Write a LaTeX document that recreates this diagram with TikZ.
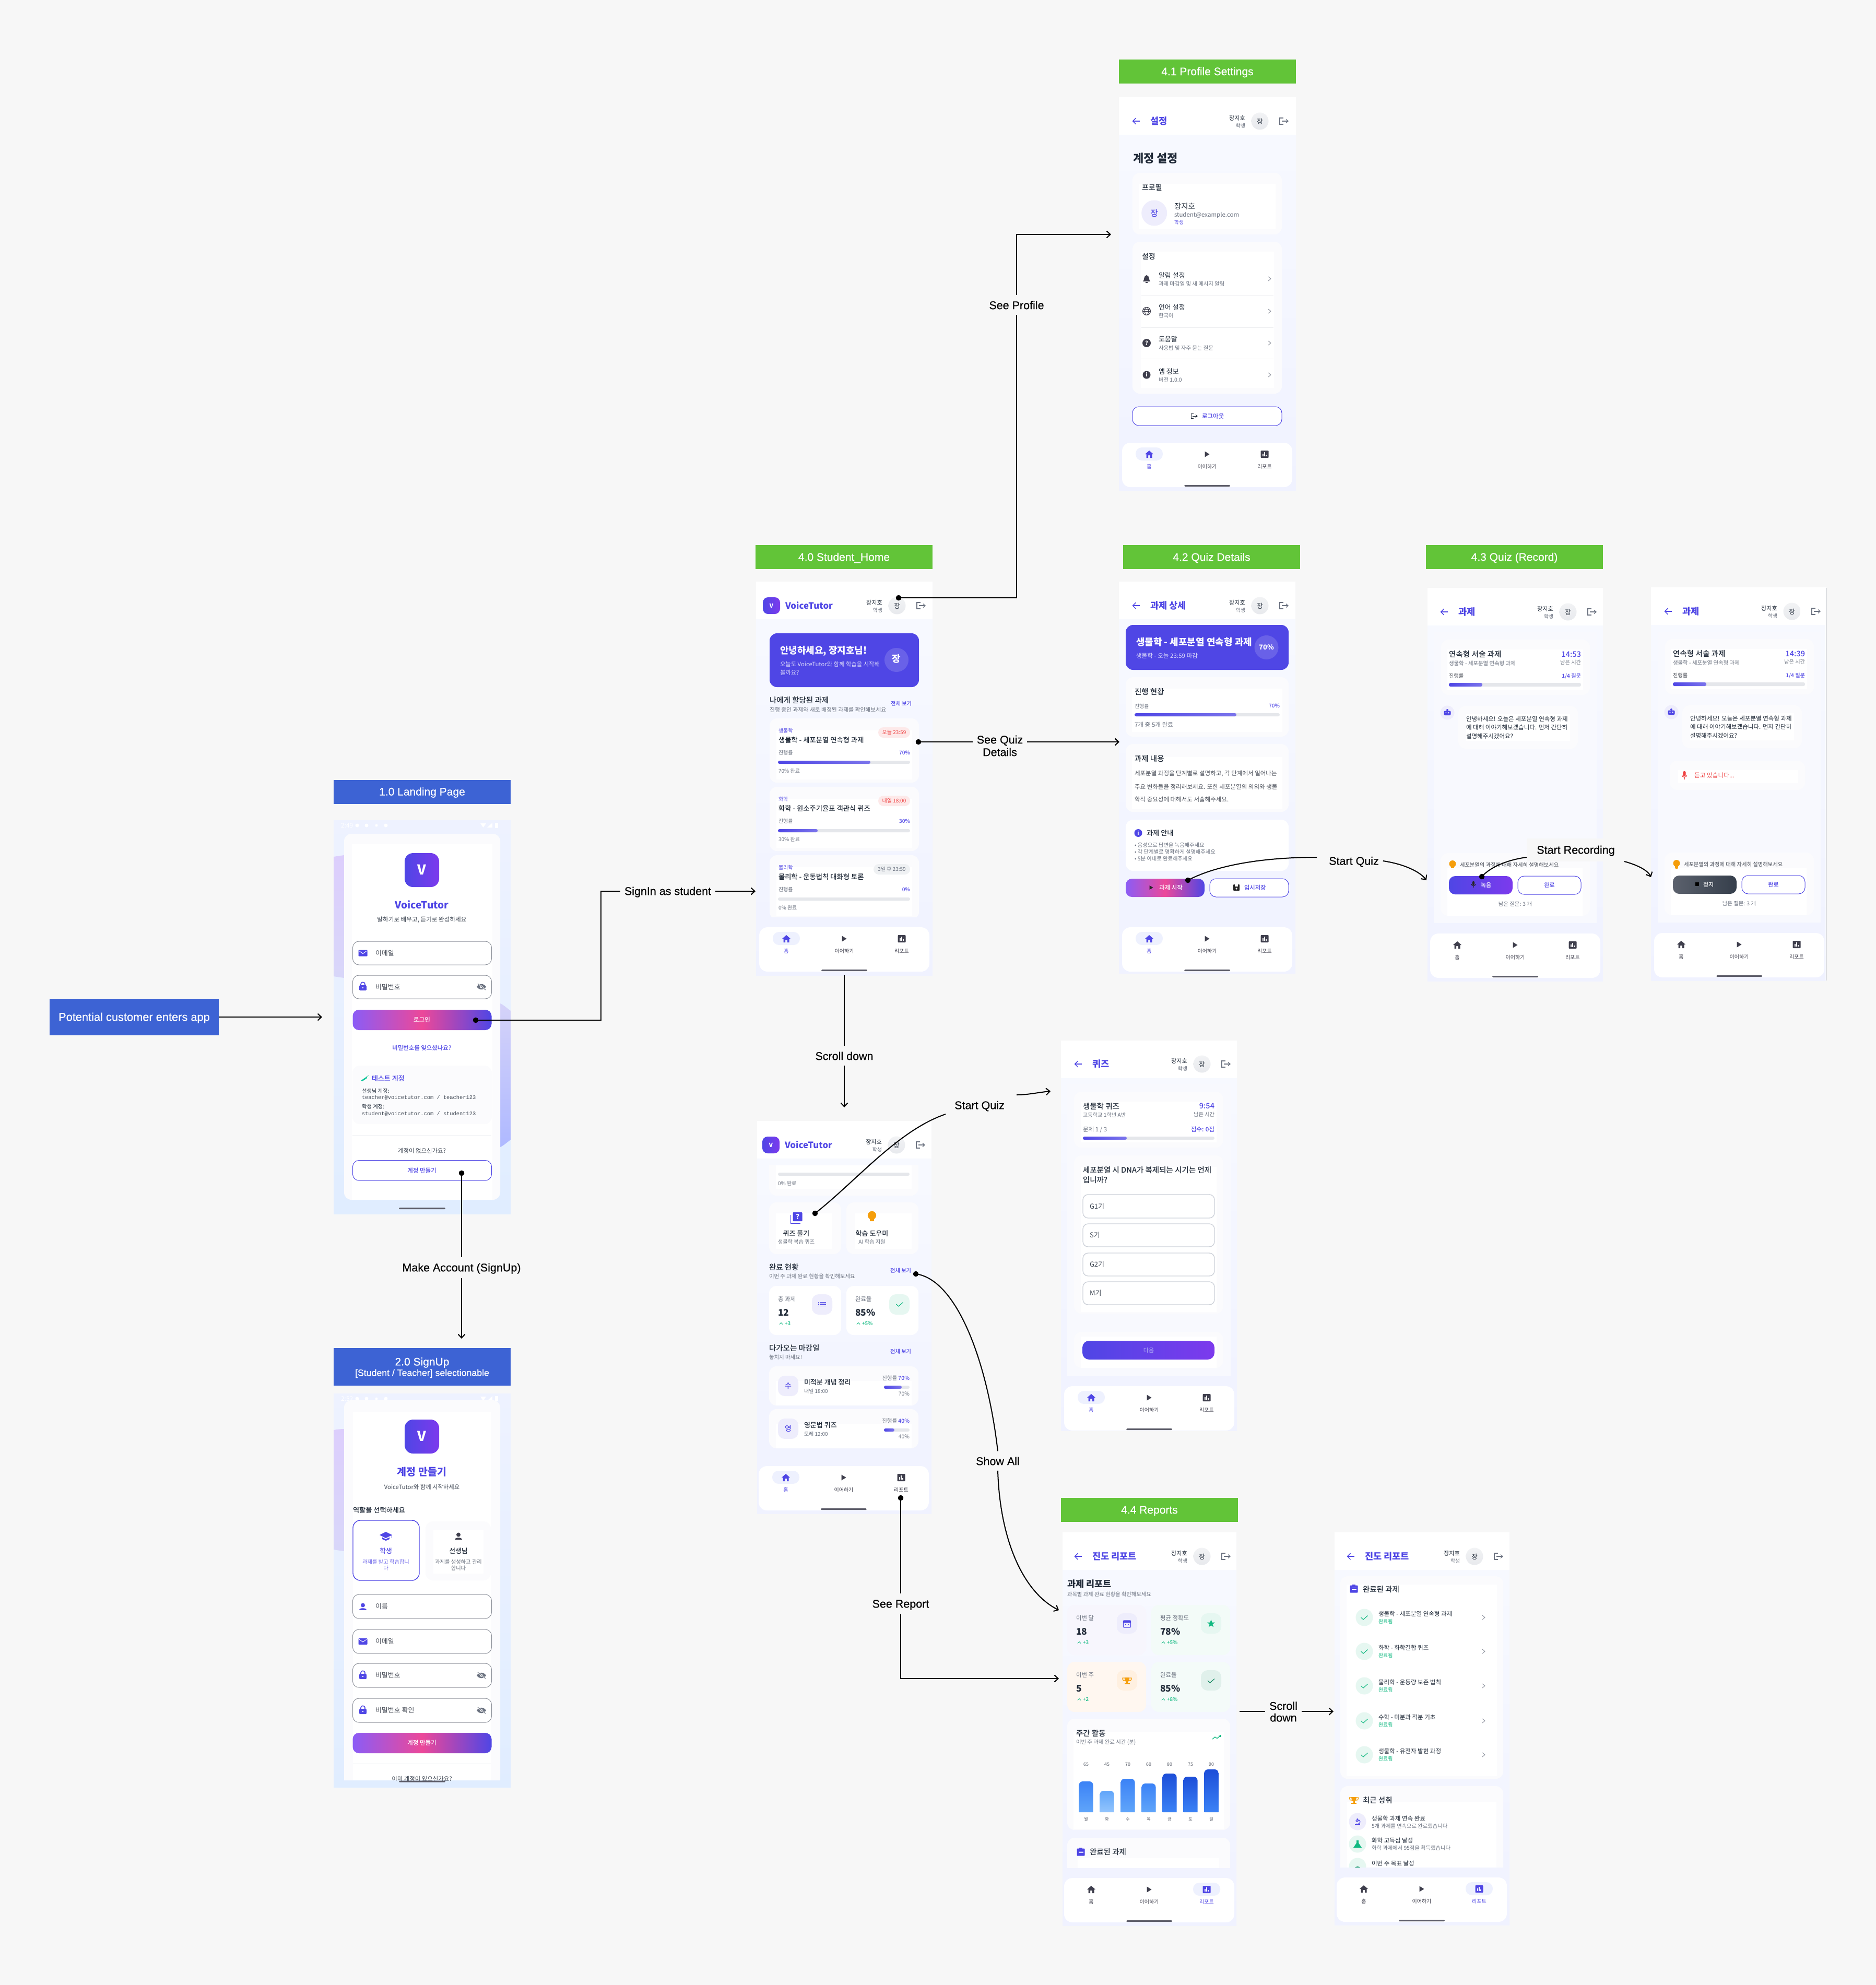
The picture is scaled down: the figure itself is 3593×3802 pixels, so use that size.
\documentclass[tikz,border=0pt]{standalone}
\usepackage{fontspec}
\usetikzlibrary{arrows.meta}
\setmainfont{Noto Sans CJK KR}[BoldFont={Noto Sans CJK KR Medium}]
\newfontfamily\krb{Noto Sans CJK KR}
\newfontfamily\lab{Liberation Sans}[FakeBold=0.3]
\newfontfamily\monof{Liberation Mono}
\definecolor{pagebg}{HTML}{F7F7F7}
\definecolor{bluehd}{HTML}{3D63D4}
\definecolor{greenhd}{HTML}{62C438}
\definecolor{ind}{HTML}{4F46E5}
\definecolor{vio}{HTML}{7C3AED}
\definecolor{lil}{HTML}{8B5CF6}
\definecolor{pnk}{HTML}{EC4899}
\definecolor{dark}{HTML}{1F2937}
\definecolor{gry}{HTML}{6B7280}
\definecolor{navd}{HTML}{3F3F4D}
\definecolor{track}{HTML}{E5E7EB}
\definecolor{grn}{HTML}{10B981}
\definecolor{redc}{HTML}{EF4444}
\definecolor{palei}{HTML}{EEEDFC}
\definecolor{paleg}{HTML}{E6F7F1}
\definecolor{cardbg}{HTML}{FBFBFD}
\definecolor{panel}{HTML}{F8F9FE}
\definecolor{navpill}{HTML}{EEF1FE}
\definecolor{scrT}{HTML}{F8FAFF}
\definecolor{scrB}{HTML}{F0F2FF}
\definecolor{scA}{HTML}{EEF2FF}
\definecolor{scB}{HTML}{F5F3FF}
\definecolor{scC}{HTML}{E0EDFF}
\definecolor{fieldb}{HTML}{8F939C}
\definecolor{optb}{HTML}{CDD1D9}
\definecolor{orng}{HTML}{F59E0B}
\pgfdeclarehorizontalshading{btngrad}{100bp}{color(0bp)=(lil); color(25bp)=(lil); color(50bp)=(pnk); color(75bp)=(ind); color(100bp)=(ind)}
\newcommand\Sx{\vrule width0pt height .88em depth .12em\relax}
\tikzset{
 tx/.style={inner sep=0pt,outer sep=0pt},
 tb/.style={font=\bfseries},
 tbb/.style={font=\krb\bfseries},
 conn/.style={draw=black,line width=2pt},
 arr/.style={conn,-{Straight Barb[length=7pt,width=13pt,line width=2pt]}},
 dotn/.style={circle,fill=black,inner sep=0pt,minimum size=10.6pt},
 lbln/.style={inner sep=0pt,outer sep=8pt,font=\lab,align=center,text=black},
 hd/.style={inner sep=0pt,outer sep=0pt,minimum width=339pt,text=white,align=center,font=\lab\fontsize{21}{21}\selectfont},
 cardo/.style={fill=cardbg,rounded corners=14pt},
 ghd/.style={shading=btngrad,rounded corners=12pt},
 vgrad/.style={left color=ind,right color=vio},
}
\newcounter{nid}
\newcommand\TxL[5][]{\stepcounter{nid}\node[tx,anchor=west,#1] (n\arabic{nid}) at (#2,#3) {\fontsize{#4}{#4}\selectfont\Sx #5};}
\newcommand\TxC[5][]{\stepcounter{nid}\node[tx,anchor=center,#1] (n\arabic{nid}) at (#2,#3) {\fontsize{#4}{#4}\selectfont\Sx #5};}
\newcommand\TxR[5][]{\stepcounter{nid}\node[tx,anchor=east,#1] (n\arabic{nid}) at (#2,#3) {\fontsize{#4}{#4}\selectfont\Sx #5};}
% icons
\newcommand\IcAt[3]{\begin{scope}[shift={(#1,#2)}]#3\end{scope}}
\newcommand\IcHome[3]{\IcAt{#1}{#2}{\fill[#3] (-8,0)--(0,-7)--(8,0)--(5.5,0)--(5.5,7)--(2,7)--(2,2)--(-2,2)--(-2,7)--(-5.5,7)--(-5.5,0)--cycle;}}
\newcommand\IcPlay[3]{\IcAt{#1}{#2}{\fill[#3] (-4.5,-5.5)--(4.5,0)--(-4.5,5.5)--cycle;}}
\newcommand\IcChart[3]{\IcAt{#1}{#2}{\fill[#3,rounded corners=1pt] (-7.5,-7)rectangle(7.5,7);\fill[white] (-4,-1)rectangle(-2,4);\fill[white] (-1,-4)rectangle(1,4);\fill[white] (2,1)rectangle(4,4);}}
\newcommand\IcOut[2]{\IcAt{#1}{#2}{\draw[gry,line width=1.2pt] (-1,-6)--(-8,-6)--(-8,6)--(-1,6);\draw[gry,line width=1.2pt] (-4,0)--(8,0);\draw[gry,line width=1.2pt] (4,-3.5)--(8,0)--(4,3.5);}}
\newcommand\IcBack[2]{\IcAt{#1}{#2}{\draw[ind,line width=1.4pt] (-6.5,0)--(6.5,0);\draw[ind,line width=1.4pt] (-0.5,-6)--(-6.5,0)--(-0.5,6);}}
\newcommand\IcMail[2]{\IcAt{#1}{#2}{\fill[ind,rounded corners=1pt] (-8.5,-6)rectangle(8.5,6);\draw[white,line width=1pt] (-7,-4)--(0,1)--(7,-4);}}
\newcommand\IcLock[2]{\IcAt{#1}{#2}{\fill[ind,rounded corners=1.5pt] (-7,-2)rectangle(7,8);\draw[ind,line width=1.6pt] (-4,-2)--(-4,-4) .. controls (-4,-9) and (4,-9) .. (4,-4)--(4,-2);\fill[white] (0,3) circle[radius=1.4];}}
\newcommand\IcEye[2]{\IcAt{#1}{#2}{\fill[gry] (-9,0) .. controls (-4,-7) and (4,-7) .. (9,0) .. controls (4,7) and (-4,7) .. (-9,0)--cycle;\fill[white] (0,0) circle[radius=2.6];\draw[white,line width=2.4pt] (-7,-6)--(8,6);\draw[gry,line width=1.1pt] (-7,-6)--(8,6);}}
\newcommand\IcPerson[3]{\IcAt{#1}{#2}{\fill[#3] (0,-3.5) circle[radius=4];\fill[#3] (-7,6) .. controls (-7,0.5) and (7,0.5) .. (7,6)--cycle;}}
\newcommand\IcCap[2]{\IcAt{#1}{#2}{\fill[ind] (-12,-3)--(0,-9)--(12,-3)--(0,3)--cycle;\fill[ind] (-7,1.5)--(0,5)--(7,1.5)--(7,5)--(0,8)--(-7,5)--cycle;\draw[ind,line width=1pt] (11,-3)--(11,3);}}
\newcommand\IcBell[2]{\IcAt{#1}{#2}{\fill[navd] (-7,5) .. controls (-4,3) and (-6,-6) .. (0,-7) .. controls (6,-6) and (4,3) .. (7,5)--cycle;\fill[navd] (-2,6)rectangle(2,7.5);}}
\newcommand\IcGlobe[2]{\IcAt{#1}{#2}{\draw[navd,line width=1.1pt] (0,0) circle[radius=7.5];\draw[navd,line width=1pt] (0,0) ellipse[x radius=3.5,y radius=7.5];\draw[navd,line width=1pt] (-7.5,0)--(7.5,0);\draw[navd,line width=.9pt] (-6.5,-3.5)--(6.5,-3.5);\draw[navd,line width=.9pt] (-6.5,3.5)--(6.5,3.5);}}
\newcommand\IcHelp[2]{\IcAt{#1}{#2}{\fill[navd] (0,0) circle[radius=8];\TxC[tbb,text=white]{0}{0}{11}{?}}}
\newcommand\IcInfo[3]{\IcAt{#1}{#2}{\fill[#3] (0,0) circle[radius=7.5];\TxC[tbb,text=white]{0}{0}{10}{i}}}
\newcommand\IcCheck[3]{\IcAt{#1}{#2}{\draw[#3,line width=1.1pt] (-6.5,0)--(-2,4)--(6.5,-3.5);}}
\newcommand\IcChev[2]{\IcAt{#1}{#2}{\draw[gry!80,line width=.9pt] (-2,-4)--(3,0)--(-2,4);}}
\newcommand\IcBulb[2]{\IcAt{#1}{#2}{\fill[orng] (0,-2.5) circle[radius=6.5];\fill[orng] (-3,2)rectangle(3,6);\fill[orng] (-2.2,7)rectangle(2.2,8.2);}}
\newcommand\IcTrophy[2]{\IcAt{#1}{#2}{\draw[orng,line width=1.3pt] (-5,-5)--(-8.5,-5)--(-8.5,-3) .. controls (-8.5,0) and (-6,0) .. (-4,0);\draw[orng,line width=1.3pt] (5,-5)--(8.5,-5)--(8.5,-3) .. controls (8.5,0) and (6,0) .. (4,0);\fill[orng] (-5,-6)--(5,-6)--(4,0) .. controls (3,3) and (-3,3) .. (-4,0)--cycle;\fill[orng] (-1.5,2)rectangle(1.5,5);\fill[orng] (-5,5)rectangle(5,7);}}
\newcommand\IcRobot[2]{\IcAt{#1}{#2}{\fill[ind,rounded corners=2pt] (-6.5,-3.5)rectangle(6.5,5);\fill[ind] (0,-5) circle[radius=2];\fill[white] (-2.6,0.2) circle[radius=1.2];\fill[white] (2.6,0.2) circle[radius=1.2];}}
\newcommand\IcMic[3]{\IcAt{#1}{#2}{\fill[#3,rounded corners=2.4pt] (-2.6,-8)rectangle(2.6,2);\draw[#3,line width=1pt] (-5,-1) .. controls (-5,5) and (5,5) .. (5,-1);\draw[#3,line width=1pt] (0,3.5)--(0,7.5);}}
\newcommand\IcSave[2]{\IcAt{#1}{#2}{\fill[black!85,rounded corners=1pt] (-6,-6)rectangle(6,6);\fill[white] (-3.5,-6)rectangle(3,-2);\fill[white] (0,2) circle[radius=1.8];}}
\newcommand\IcStar[2]{\IcAt{#1}{#2}{\fill[grn] (0,-8)--(2,-2.5)--(7.6,-2.5)--(3,1)--(4.7,6.5)--(0,3)--(-4.7,6.5)--(-3,1)--(-7.6,-2.5)--(-2,-2.5)--cycle;}}
\newcommand\IcCal[2]{\IcAt{#1}{#2}{\draw[ind,line width=1.2pt,rounded corners=1pt] (-7,-6)rectangle(7,7);\fill[ind] (-7,-6)rectangle(7,-2);\fill[ind] (-3.5,0.5)rectangle(-2,2);\fill[ind] (-.7,0.5)rectangle(.7,2);\fill[ind] (2,0.5)rectangle(3.5,2);}}
\newcommand\IcList[2]{\IcAt{#1}{#2}{\foreach \yy in {-3.5,0,3.5}{\fill[ind] (-7.5,{\yy-.8})rectangle(-6,{\yy+.8});\fill[ind] (-4.5,{\yy-.8})rectangle(7.5,{\yy+.8});}}}
\newcommand\IcClip[2]{\IcAt{#1}{#2}{\fill[ind,rounded corners=1pt] (-7.5,-6.5)rectangle(7.5,7.5);\fill[ind] (-3,-8)rectangle(3,-5);\fill[white] (-4.5,-2)rectangle(4.5,-.8);\fill[white] (-4.5,1)rectangle(4.5,2.2);}}
\newcommand\IcTrend[2]{\IcAt{#1}{#2}{\draw[grn,line width=1.3pt] (-8,4)--(-3,0)--(1,2.5)--(8,-3);\draw[grn,line width=1.3pt] (4,-3.5)--(8,-3.5)--(8,0);}}
\newcommand\IcQuiz[2]{\IcAt{#1}{#2}{\draw[ind,line width=1.6pt] (-11,-6)--(-11,10)--(7,10);\fill[ind,rounded corners=1pt] (-7,-11)rectangle(11,6);\TxC[tbb,text=white]{2}{-2.5}{13}{?}}}
\newcommand\IcTube[2]{\IcAt{#1}{#2}{\draw[grn!80!cyan,line width=2.6pt,line cap=round] (-6,4)--(3,-2);\draw[grn!60,line width=1.2pt] (2,-3)--(7,-6);}}
\newcommand\IcMicro[2]{\IcAt{#1}{#2}{\draw[ind,line width=1.3pt] (-1,-6)--(3,-1);\draw[ind,line width=1.2pt] (3,-3) .. controls (8,2) and (2,6) .. (-3,4.5);\draw[ind,line width=1.3pt] (-5,6)--(5,6);\draw[ind,line width=1.2pt] (-1,-1.5) circle[radius=2];}}
\newcommand\IcFlask[2]{\IcAt{#1}{#2}{\fill[grn] (-2,-7)--(2,-7)--(2,-2)--(8,7)--(-8,7)--(-2,-2)--cycle;}}
% screen parts
\newcommand\Scr[4]{\shade[top color=scrT,bottom color=scrB] (#1,#2) rectangle (#3,#4);\fill[white] (#1,#2) rectangle (#3,#2+72);}
\newcommand\HdrR{\TxR[text=dark]{242}{40}{11.2}{장지호}\TxR[text=gry]{242}{55}{9.8}{학생}\shade[top color=track!50,bottom color=track!90] (270,46) circle[radius=16.5];\TxC[text=dark]{270}{46.5}{12.5}{장}\IcOut{316}{46}}
\newcommand\HdrLogo[2]{\begin{scope}[shift={(#1,#2)}]\shade[vgrad,rounded corners=10pt] (13,30) rectangle (46,62);\TxC[tbb,text=white]{29.5}{46}{11}{V}\TxL[tbb,text=ind]{56}{46}{16.8}{VoiceTutor}\HdrR\end{scope}}
\newcommand\HdrBack[3]{\begin{scope}[shift={(#1,#2)}]\IcBack{33}{46}\TxL[tbb,text=ind]{60}{46}{17.6}{#3}\HdrR\end{scope}}
\newcommand\NavBar[3]{\begin{scope}[shift={(#1,#2)}]
 \fill[white,rounded corners=16pt] (6,662) rectangle (332,747);
 \ifnum#3=1 \fill[navpill,rounded corners=12pt] (32,671) rectangle (84,696);\IcHome{58}{684}{ind}\TxC[text=ind]{58}{708}{10}{홈}\else\IcHome{58}{684}{navd}\TxC[text=navd]{58}{708}{10}{홈}\fi
 \IcPlay{169}{684}{navd}\TxC[text=navd]{169}{708}{10}{이어하기}
 \ifnum#3=3 \fill[navpill,rounded corners=12pt] (253,671) rectangle (305,696);\IcChart{279}{684}{ind}\TxC[text=ind]{279}{708}{10}{리포트}\else\IcChart{279}{684}{navd}\TxC[text=navd]{279}{708}{10}{리포트}\fi
 \fill[navd!85,rounded corners=1.5pt] (125,743) rectangle (213,746);
 \end{scope}}
\newcommand\PBar[5]{\fill[track,rounded corners=3pt] (#1,#3) rectangle (#2,#4);\ifdim#5pt>#1pt\shade[left color=ind,right color=ind!75!white,rounded corners=3pt] (#1,#3) rectangle (#5,#4);\fi}
\newcommand\Card[8]{\fill[cardo] (#1,#2) rectangle (#3,#4);\fill[white] (#5,#6) rectangle (#7,#8);}
\newcommand\ACard[7]{\begin{scope}[shift={(0,#1)}]
 \Card{1474}{1376}{1760}{1499}{1487}{1399}{1747}{1493}
 \TxL[text=ind]{1491}{1400}{10}{#2}\TxL[tb,text=dark]{1491}{1417}{13.3}{#3}
 \fill[#5,rounded corners=10pt] (#6,1393) rectangle (1743,1413);\TxC[text=#7]{{(#6+1743)/2}}{1403}{10}{#4}
 \end{scope}}
\newcommand\ACardB[4]{\begin{scope}[shift={(0,#1)}]
 \TxL[text=gry]{1491}{1442}{10}{진행률}\TxR[tb,text=ind]{1743}{1442}{10}{#2\%}
 \PBar{1490}{1743}{1457}{1463}{#3}
 \TxL[text=gry]{1491}{1477}{10}{#2\% 완료}
 \end{scope}}
\newcommand\StatCard[9]{\begin{scope}[shift={(#1,#2)}]
 \fill[#5,rounded corners=14pt] (0,0) rectangle (#3,#4);
 \fill[#6,rounded corners=13pt] ({#3-56},16) rectangle ({#3-17},55);
 \TxL[text=gry]{17}{25}{11.4}{#7}\TxL[tbb,text=dark]{17}{51}{17.5}{#8}
 \draw[grn,line width=.9pt] (20,73.5)--(23,70.5)--(26,73.5);\TxL[tb,text=grn]{30}{72}{9.8}{#9}
 \end{scope}}
\newcommand\Field[4]{\draw[fieldb,line width=1pt,fill=white,rounded corners=12pt] (675.5,#1) rectangle (941.5,#2);\TxL[text=gry!70!black]{719}{{(#1+#2)/2}}{13}{#3}#4}
\newcommand\Status[3]{\TxL[text=white]{653}{#1}{12}{#2}\fill[white] (684,#1) circle[radius=3.5];\fill[white] (702,#1) circle[radius=3.5];\fill[white] (721,#1) circle[radius=2.5];\fill[white] (739,#1) circle[radius=3.5];\fill[white] (920,#1-4) -- (931,#1-4)--(925.5,#1+4)--cycle;\fill[white] (943,#1-5)--(943,#1+4)--(933,#1+4)--cycle;\fill[white] (948,#1-5) rectangle (954,#1+5);#3}
\newcommand\RBar[7]{\shade[top color=#5,bottom color=#6] ({#1-13.5},3471) [rounded corners=7pt] -- ({#1-13.5},#2) -- ({#1+13.5},#2) [sharp corners] -- ({#1+13.5},3471) -- cycle;\TxC[text=gry!80!black]{#1}{3379}{8.8}{#3}\TxC[text=gry!80!black]{#1}{3484}{8}{#4}}
\newcommand\DLine[7]{\begin{scope}[shift={(0,#1)}]\Card{1473}{2617}{1759}{2692}{1486}{2645}{1746}{2692}
 \fill[palei,rounded corners=13pt] (1490,2635) rectangle (1529,2674);\TxC[tb,text=ind]{1509.5}{2654.5}{14}{#2}
 \TxL[tb,text=dark]{1540}{2648}{13}{#3}\TxL[text=gry]{1540}{2665}{10}{#4}
 \TxR[text=gry]{1742}{2640}{10.4}{진행률 {\bfseries\color{ind}#5\%}}
 \PBar{1693}{1742}{2654}{2660}{#6}\TxR[text=gry]{1742}{2670}{10.4}{#5\%}\end{scope}}
\newcommand\QuizScr[4]{\begin{scope}[shift={(#1,#2)}]
 \fill[panel] (13,85) rectangle (325,642);
 \Card{27}{99}{312}{205}{39}{118}{299}{195}
 \TxL[tb,text=dark]{42}{127}{14.6}{연속형 서술 과제}\TxL[text=gry]{42}{145}{10.4}{생물학 - 세포분열 연속형 과제}
 \TxR[tb,text=ind]{295}{127}{14.5}{#3}\TxR[text=gry]{295}{143}{10.2}{남은 시간}
 \TxL[text=gry!60!black]{42}{169}{10.2}{진행률}\TxR[tb,text=ind]{295}{169}{10.2}{1/4 질문}
 \PBar{42}{295}{182}{189}{106}
 \fill[palei] (39,239) circle[radius=13.5];\IcRobot{39}{239}
 \Card{60}{226}{289}{308}{75}{241}{274}{293}
 \TxL[text=dark]{75}{251}{11.5}{안녕하세요! 오늘은 세포분열 연속형 과제}
 \TxL[text=dark]{75}{267}{11.5}{에 대해 이야기해보겠습니다. 먼저 간단히}
 \TxL[text=dark]{75}{284}{11.5}{설명해주시겠어요?}
 \Card{26}{508}{312}{628}{39}{537}{298}{628}
 \IcBulb{49}{531}\TxL[text=gry!70!black]{63}{531}{10.3}{세포분열의 과정에 대해 자세히 설명해보세요}
 #4
 \fill[white,draw=ind,line width=1pt,rounded corners=12pt] (174,552) rectangle (295,587);\TxC[tb,text=ind]{234.5}{569.5}{11}{완료}
 \TxC[text=gry]{169}{606}{10.4}{남은 질문: 3 개}
 \end{scope}}
\begin{document}
\begin{tikzpicture}[x=1pt,y=-1pt]
\useasboundingbox (0,0) rectangle (3593,3802);
\fill[pagebg] (0,0) rectangle (3593,3802);
% ---------- headers
\node[hd,fill=bluehd,minimum height=46pt] (hl) at (808.5,1516.5) {\Sx 1.0 Landing Page};
\node[hd,fill=bluehd,minimum height=72pt] (hs) at (808.5,2618) {\Sx 2.0 SignUp\\[-1pt]{\fontsize{17.7}{18}\selectfont\Sx {[}Student / Teacher{]} selectionable}};
\node[hd,fill=greenhd,minimum height=46pt] (h40) at (1616.5,1067) {\Sx 4.0 Student\_Home};
\node[hd,fill=greenhd,minimum height=46pt] (h41) at (2312.5,137) {\Sx 4.1 Profile Settings};
\node[hd,fill=greenhd,minimum height=46pt] (h42) at (2320.5,1067) {\Sx 4.2 Quiz Details};
\node[hd,fill=greenhd,minimum height=46pt] (h43) at (2900.5,1067) {\Sx 4.3 Quiz (Record)};
\node[hd,fill=greenhd,minimum height=46pt] (h44) at (2201.5,2892) {\Sx 4.4 Reports};
\node[tx,fill=bluehd,minimum width=324pt,minimum height=70pt,text=white,font=\lab\fontsize{21.8}{22}\selectfont] (pot) at (257,1948) {\Sx Potential customer enters app};
% ---------- Landing
\shade[top color=scA,middle color=scB,bottom color=scC] (639,1571) rectangle (978,2325);
\shade[top color=lil!30,bottom color=ind!22] (639,1641) .. controls (645,1640) and (652,1639) .. (659,1638) -- (659,1873) .. controls (652,1872) and (645,1871) .. (639,1870) -- cycle;
\shade[top color=ind!24,bottom color=blue!22!scC] (958,1922) .. controls (965,1925) and (972,1932) .. (978,1936) -- (978,2183) .. controls (972,2187) and (965,2194) .. (958,2197) -- cycle;
\Status{1581}{2:49}{}
\fill[cardo] (659,1597) rectangle (958,2298);
\fill[white] (674,1617) rectangle (943,2298);
\shade[vgrad,rounded corners=16pt] (775,1634) rectangle (841,1699);
\TxC[tbb,text=white]{808}{1666}{26}{V}
\TxC[tbb,text=ind]{808}{1733}{19}{VoiceTutor}
\TxC[text=dark!85]{808}{1761}{11.6}{말하기로 배우고, 듣기로 완성하세요}
\Field{1803}{1848}{이메일}{\IcMail{695}{1825.5}}
\Field{1868}{1913}{비밀번호}{\IcLock{695}{1889}\IcEye{922}{1890}}
\shade[ghd] (675.5,1934) rectangle (941.5,1973);
\TxC[tb,text=white]{808}{1953.5}{11.5}{로그인}
\TxC[tb,text=ind]{808}{2007}{11.4}{비밀번호를 잊으셨나요?}
\fill[cardo] (675,2041) rectangle (942,2153);
\IcTube{699}{2066}
\TxL[tb,text=ind]{712}{2066}{13}{테스트 계정}
\TxL[text=dark]{693}{2089.5}{10.3}{선생님 계정:}
\TxL[font=\monof,text=dark!85]{693}{2102}{10.4}{teacher@voicetutor.com / teacher123}
\TxL[text=dark]{693}{2120}{10.3}{학생 계정:}
\TxL[font=\monof,text=dark!85]{693}{2133}{10.4}{student@voicetutor.com / student123}
\draw[track,line width=1pt] (675,2175) -- (941,2175);
\TxC[text=dark!85]{808}{2204}{11.4}{계정이 없으신가요?}
\fill[white,draw=ind,line width=1pt,rounded corners=12pt] (675.5,2222.5) rectangle (941.5,2261);
\TxC[tb,text=ind]{808}{2242}{11.5}{계정 만들기}
\fill[navd!85,rounded corners=1.5pt] (764,2313) rectangle (853,2316);
% ---------- SignUp
\shade[top color=scA,middle color=scB,bottom color=scC] (639,2669) rectangle (978,3423);
\shade[top color=lil!30,bottom color=ind!22] (639,2739) .. controls (645,2738) and (652,2737) .. (659,2737) -- (659,2971) .. controls (652,2970) and (645,2969) .. (639,2968) -- cycle;
\Status{2679}{2:52}{}
\fill[cardbg] (659,2695) [rounded corners=14pt] -- (659,2682) -- (958,2682) [sharp corners] -- (958,3410) -- (659,3410) -- cycle;
\fill[white] (676,2705) rectangle (941,3410);
\shade[vgrad,rounded corners=16pt] (775,2719) rectangle (841,2784);
\TxC[tbb,text=white]{808}{2751}{26}{V}
\TxC[tbb,text=ind]{808}{2819}{19.5}{계정 만들기}
\TxC[text=dark!85]{808}{2848}{11.3}{VoiceTutor와 함께 시작하세요}
\TxL[tb,text=dark]{676}{2892}{13.2}{역할을 선택하세요}
\fill[white,draw=ind,line width=1.4pt,rounded corners=14pt] (676,2912) rectangle (803,3027);
\IcCap{739}{2943}
\TxC[tb,text=ind]{739}{2971}{12.7}{학생}
\TxC[text=ind!80]{739}{2992}{10.3}{과제를 받고 학습합니}
\TxC[text=ind!80]{739}{3004}{10.3}{다}
\fill[cardbg,rounded corners=14pt] (815,2914) rectangle (940,3027);
\fill[white] (830,2931) rectangle (926,3014);
\IcPerson{878}{2943}{navd}
\TxC[tb,text=dark]{878}{2971}{12.8}{선생님}
\TxC[text=gry]{878}{2992}{10.3}{과제를 생성하고 관리}
\TxC[text=gry]{878}{3004}{10.3}{합니다}
\Field{3054}{3100}{이름}{\IcPerson{695}{3078}{ind}}
\Field{3121}{3167}{이메일}{\IcMail{695}{3144}}
\Field{3186}{3232}{비밀번호}{\IcLock{695}{3208}\IcEye{922}{3209}}
\Field{3253}{3299}{비밀번호 확인}{\IcLock{695}{3275}\IcEye{922}{3276}}
\shade[ghd] (675.5,3319) rectangle (941.5,3358);
\TxC[tb,text=white]{808}{3338.5}{11.5}{계정 만들기}
\draw[track,line width=1pt] (676,3378) -- (941,3378);
\begin{scope}\clip (659,3390) rectangle (958,3410);
\TxC[text=dark!85]{808}{3407}{11.4}{이미 계정이 있으신가요?}
\end{scope}
\fill[navd!85,rounded corners=1.5pt] (764,3410.5) rectangle (853,3413.5);
% ---------- 4.0 home
\Scr{1448}{1114}{1786}{1868}
\HdrLogo{1448}{1114}
\fill[ind,rounded corners=14pt] (1474,1213) rectangle (1760,1316);
\TxL[tbb,text=white]{1494}{1247}{18}{안녕하세요, 장지호님!}
\TxL[text=palei!85!ind]{1494}{1272}{11.3}{오늘도 VoiceTutor와 함께 학습을 시작해}
\TxL[text=palei!85!ind]{1494}{1288}{11.3}{볼까요?}
\fill[white,opacity=.15] (1717,1264) circle[radius=23];
\TxC[tbb,text=white]{1717}{1262}{18}{장}
\TxL[tb,text=dark]{1474}{1341}{14.5}{나에게 할당된 과제}
\TxL[text=gry]{1474}{1359}{10.8}{진행 중인 과제와 새로 배정된 과제를 확인해보세요}
\TxR[tb,text=ind]{1746}{1348}{10.2}{전체 보기}
\ACard{0}{생물학}{생물학 - 세포분열 연속형 과제}{오늘 23:59}{redc!12}{1682}{redc}
\ACardB{0}{70}{1667}{}
\ACard{131}{화학}{화학 - 원소주기율표 객관식 퀴즈}{내일 18:00}{redc!12}{1682}{redc}
\ACardB{131}{30}{1566}{}
\begin{scope}\clip (1448,1600) rectangle (1786,1756);
\ACard{262}{물리학}{물리학 - 운동법칙 대화형 토론}{3일 후 23:59}{track!60}{1673}{gry}
\ACardB{262}{0}{1490}{}
\end{scope}
\NavBar{1448}{1114}{1}
% ---------- 4.1 profile
\Scr{2143}{186}{2482}{939}
\HdrBack{2143}{186}{설정}
\TxL[tbb,text=dark]{2170}{303}{22}{계정 설정}
\Card{2169}{331}{2455}{449}{2182}{352}{2443}{439}
\TxL[tb,text=dark]{2187}{359}{14}{프로필}
\fill[palei] (2210.7,408) circle[radius=24.5];
\TxC[tb,text=ind]{2210.7}{408}{16}{장}
\TxL[text=dark]{2249}{395}{14.4}{장지호}
\TxL[text=gry]{2249}{412}{11.5}{student@example.com}
\TxL[text=ind]{2249}{426}{9.6}{학생}
\Card{2169}{463}{2455}{754}{2185}{482}{2440}{743}
\TxL[tb,text=dark]{2187}{491}{14}{설정}
\IcBell{2196}{534}\IcGlobe{2196}{596}\IcHelp{2196}{657}\IcInfo{2196}{718}{navd}
\TxL[text=dark]{2219}{528}{13}{알림 설정}\TxL[text=gry]{2219}{544}{10.4}{과제 마감일 및 새 메시지 알림}
\TxL[text=dark]{2219}{589}{13}{언어 설정}\TxL[text=gry]{2219}{605}{10.4}{한국어}
\TxL[text=dark]{2219}{650}{13}{도움말}\TxL[text=gry]{2219}{667}{10.4}{사용법 및 자주 묻는 질문}
\TxL[text=dark]{2219}{712}{13}{앱 정보}\TxL[text=gry]{2219}{728}{10.4}{버전 1.0.0}
\IcChev{2431}{534}\IcChev{2431}{596}\IcChev{2431}{657}\IcChev{2431}{718}
\draw[track!70,line width=1pt] (2186,565) -- (2439,565);
\draw[track!70,line width=1pt] (2186,627) -- (2439,627);
\draw[track!70,line width=1pt] (2186,687) -- (2439,687);
\fill[white,draw=ind,line width=1pt,rounded corners=12pt] (2169,779) rectangle (2455,815);
\IcAt{2287}{797}{\begin{scope}[scale=.75]\draw[dark,line width=1pt] (-1,-6)--(-8,-6)--(-8,6)--(-1,6);\draw[dark,line width=1pt] (-4,0)--(8,0);\draw[dark,line width=1pt] (4,-3.5)--(8,0)--(4,3.5);\end{scope}}
\TxL[tb,text=ind]{2302}{797}{11.5}{로그아웃}
\NavBar{2143}{186}{1}
% ---------- 4.2 quiz details
\Scr{2143}{1114}{2481}{1864}
\HdrBack{2143}{1114}{과제 상세}
\fill[ind,rounded corners=14pt] (2156,1197) rectangle (2468,1283);
\TxL[tbb,text=white]{2176}{1230}{18}{생물학 - 세포분열 연속형 과제}
\TxL[text=palei!85!ind]{2176}{1256}{11.6}{생물학 - 오늘 23:59 마감}
\fill[white,opacity=.15] (2425.5,1240) circle[radius=23];
\TxC[tbb,text=white]{2425.5}{1240}{13}{70\%}
\Card{2156}{1297}{2468}{1411}{2168}{1319}{2456}{1402}
\TxL[tb,text=dark]{2173}{1325}{14.5}{진행 현황}
\TxL[text=gry]{2173}{1352.5}{10}{진행률}\TxR[tb,text=ind]{2451}{1352}{10}{70\%}
\PBar{2173}{2451}{1366}{1372}{2368}
\TxL[text=gry]{2173}{1388}{11.6}{7개 중 5개 완료}
\Card{2156}{1425}{2468}{1555}{2168}{1450}{2456}{1550}
\TxL[tb,text=dark]{2173}{1453}{14.5}{과제 내용}
\TxL[text=gry!70!black]{2173}{1482}{11.5}{세포분열 과정을 단계별로 설명하고, 각 단계에서 일어나는}
\TxL[text=gry!70!black]{2173}{1507}{11.5}{주요 변화들을 정리해보세요. 또한 세포분열의 의의와 생물}
\TxL[text=gry!70!black]{2173}{1531}{11.5}{학적 중요성에 대해서도 서술해주세요.}
\fill[white,rounded corners=14pt] (2156,1570) rectangle (2468,1668);
\IcInfo{2180}{1595.5}{ind}
\TxL[tb,text=dark]{2196}{1595.5}{13.2}{과제 안내}
\TxL[text=gry]{2173}{1619}{10.3}{• 음성으로 답변을 녹음해주세요}
\TxL[text=gry]{2173}{1632}{10.3}{• 각 단계별로 명확하게 설명해주세요}
\TxL[text=gry]{2173}{1645}{10.3}{• 5분 이내로 완료해주세요}
\shade[ghd] (2156,1683) rectangle (2307,1718);
\IcAt{2205}{1700}{\fill[black!85] (-3.5,-4)--(3.5,0)--(-3.5,4)--cycle;}
\TxL[tb,text=white]{2220}{1700}{11.5}{과제 시작}
\fill[white,draw=ind,line width=1pt,rounded corners=12pt] (2317,1683) rectangle (2468,1718);
\IcSave{2368}{1700}
\TxL[tb,text=ind]{2383}{1700}{11.3}{임시저장}
\NavBar{2143}{1114}{1}
% ---------- 4.3 record
\Scr{2734}{1126}{3070}{1879}
\HdrBack{2733}{1126}{과제}
\QuizScr{2733}{1126}{14:53}{\shade[left color=ind,right color=vio,rounded corners=12pt] (42,552) rectangle (164,587);\IcAt{89}{568}{\begin{scope}[scale=.8]\IcMic{0}{0}{black!85}\end{scope}}\TxL[tb,text=white]{103}{569.5}{11}{녹음}}
\NavBar{2733}{1126}{0}
\Scr{3162}{1125}{3497}{1878}
\HdrBack{3162}{1125}{과제}
\QuizScr{3162}{1125}{14:39}{\shade[left color=gry!85!black,right color=dark!90,rounded corners=12pt] (42,552) rectangle (164,587);\fill[black] (85,565) rectangle (92,572);\TxL[tb,text=white]{100}{569.5}{11}{정지}
 \Card{36}{332}{295}{388}{52}{350}{281}{375}\IcMic{64}{360}{redc}\TxL[text=redc]{83}{360}{11.7}{듣고 있습니다...}}
\NavBar{3162}{1125}{0}
\draw[gry!70,line width=.8pt] (3497,1126) -- (3497,1878);
% ---------- Scrolled home
\Scr{1450}{2147}{1784}{2899}
\HdrLogo{1447}{2147}
\begin{scope}\clip (1450,2232) rectangle (1784,2300);
\Card{1473}{2190}{1759}{2290}{1486}{2200}{1746}{2277}
\TxL[text=gry]{1490}{2228}{10}{진행률}\TxR[tb,text=ind]{1742}{2228}{10}{0\%}
\PBar{1490}{1742}{2246}{2252}{1490}
\TxL[text=gry]{1490}{2267}{10}{0\% 완료}
\end{scope}
\Card{1473}{2303}{1611}{2402}{1486}{2324}{1594}{2392}
\Card{1621}{2303}{1759}{2402}{1638}{2324}{1746}{2392}
\IcQuiz{1525.5}{2333}
\TxC[tb,text=dark]{1525}{2363}{13}{퀴즈 풀기}
\TxC[text=gry]{1525}{2379}{10.2}{생물학 복습 퀴즈}
\IcAt{1670}{2331}{\begin{scope}[scale=1.25]\IcBulb{0}{0}\end{scope}}
\TxC[tb,text=dark]{1670}{2363}{13}{학습 도우미}
\TxC[text=gry]{1670}{2379}{10.2}{AI 학습 지원}
\TxL[tb,text=dark]{1473}{2427}{14.5}{완료 현황}
\TxL[text=gry]{1473}{2445}{10.4}{이번 주 과제 완료 현황을 확인해보세요}
\TxR[tb,text=ind]{1745}{2434}{10.2}{전체 보기}
\StatCard{1473}{2463}{138}{94}{white}{palei}{총 과제}{12}{+3}
\IcList{1574.5}{2498}
\StatCard{1621}{2463}{138}{94}{white}{paleg}{완료율}{85\%}{+5\%}
\IcCheck{1723}{2498}{grn}
\TxL[tb,text=dark]{1473}{2582}{14.5}{다가오는 마감일}
\TxL[text=gry]{1473}{2600}{10.4}{놓치지 마세요!}
\TxR[tb,text=ind]{1745}{2589}{10.2}{전체 보기}
\DLine{0}{수}{미적분 개념 정리}{내일 18:00}{70}{1727}{}
\DLine{82}{영}{영문법 퀴즈}{모레 12:00}{40}{1713}{}
\NavBar{1447}{2146}{1}
% ---------- Quiz
\Scr{2032}{1993}{2369}{2740}
\HdrBack{2032}{1992}{퀴즈}
\fill[panel] (2044,2077) rectangle (2357,2635);
\Card{2057}{2091}{2343}{2198}{2070}{2110}{2330}{2188}
\TxL[tb,text=dark]{2074}{2119}{14.5}{생물학 퀴즈}
\TxL[text=gry]{2074}{2136}{10.2}{고등학교 1학년 A반}
\TxR[tb,text=ind]{2326}{2118}{14.5}{9:54}
\TxR[text=gry]{2326}{2135}{10.2}{남은 시간}
\TxL[text=gry]{2074}{2163}{11.5}{문제 1 / 3}
\TxR[tb,text=ind]{2326}{2163}{11.5}{점수: 0점}
\PBar{2074}{2326}{2177}{2183}{2158}
\Card{2057}{2213}{2343}{2516}{2070}{2235}{2330}{2513}
\TxL[tb,text=dark]{2074}{2241}{14.5}{세포분열 시 DNA가 복제되는 시기는 언제}
\TxL[tb,text=dark]{2074}{2260}{14.5}{입니까?}
\foreach \ya/\yb/\ot in {2288/2333/G1기,2344/2388/S기,2400/2444/G2기,2455/2499/M기}{
 \draw[optb,line width=1.4pt,fill=white,rounded corners=10pt] (2074,\ya) rectangle (2326,\yb);
 \TxL[text=dark!85]{2087}{{(\ya+\yb)/2}}{13}{\ot}
}
\Card{2057}{2551}{2343}{2620}{2070}{2560}{2330}{2620}
\shade[vgrad,rounded corners=13pt] (2073,2568) rectangle (2326,2604);
\TxC[text=palei!60!ind]{2200}{2586}{11}{다음}
\NavBar{2032}{1993}{1}
% ---------- Reports 1
\Scr{2035}{2935}{2368}{3688}
\HdrBack{2032}{2935}{진도 리포트}
\TxL[tbb,text=dark]{2044}{3034}{17.5}{과제 리포트}
\TxL[text=gry]{2044}{3054}{10.3}{과목별 과제 완료 현황을 확인해보세요}
\StatCard{2044}{3074}{151}{96}{palei!50}{palei}{이번 달}{18}{+3}
\IcCal{2158.5}{3110}
\StatCard{2205}{3074}{151}{96}{paleg!50}{paleg}{평균 정확도}{78\%}{+5\%}
\IcStar{2319.5}{3110}
\StatCard{2044}{3183}{151}{96}{orange!6}{orange!12}{이번 주}{5}{+2}
\IcTrophy{2158.5}{3219}
\StatCard{2205}{3183}{151}{96}{paleg!45}{paleg!95!gry}{완료율}{85\%}{+8\%}
\IcCheck{2319.5}{3219}{grn!70!black}
\Card{2044}{3292}{2356}{3505}{2056}{3318}{2344}{3503}
\TxL[tb,text=dark]{2061}{3320}{14.5}{주간 활동}
\TxL[text=gry]{2061}{3337}{10.4}{이번 주 과제 완료 시간 (분)}
\IcTrend{2330}{3327}
\definecolor{ba}{HTML}{3B82F6}\definecolor{bb}{HTML}{60A5FA}\definecolor{bc}{HTML}{93C5FD}\definecolor{bd}{HTML}{1D4ED8}
\RBar{2080}{3412}{65}{월}{ba}{bb}{}
\RBar{2120}{3430}{45}{화}{bb}{bc}{}
\RBar{2160}{3407}{70}{수}{ba}{bb}{}
\RBar{2200}{3416}{60}{목}{ba}{bb}{}
\RBar{2240}{3397}{80}{금}{bd}{ba}{}
\RBar{2280}{3403}{75}{토}{bd}{ba}{}
\RBar{2320}{3389}{90}{일}{bd}{ba}{}
\begin{scope}\clip (2044,3510) rectangle (2356,3577);
\fill[cardo] (2044,3520) rectangle (2356,3620);
\fill[white] (2064,3559) rectangle (2335,3620);
\end{scope}
\IcClip{2070}{3547}
\TxL[tb,text=dark]{2087}{3547}{14.5}{완료된 과제}
\NavBar{2032}{2935}{3}
% ---------- Reports 2
\Scr{2556}{2935}{2891}{3687}
\HdrBack{2554}{2935}{진도 리포트}
\Card{2567}{3019}{2879}{3407}{2579}{3035}{2867}{3402}
\IcClip{2593}{3043}
\TxL[tb,text=dark]{2610}{3044}{14.5}{완료된 과제}
\foreach \yy/\tt in {3098/생물학 - 세포분열 연속형 과제,3163/화학 - 화학결합 퀴즈,3229/물리학 - 운동량 보존 법칙,3296/수학 - 미분과 적분 기초,3361/생물학 - 유전자 발현 과정}{
 \fill[paleg] (2613,\yy) circle[radius=16.5];
 \IcCheck{2613}{\yy}{grn}
 \TxL[text=dark]{2640}{{\yy-7}}{11.5}{\tt}
 \TxL[text=grn]{2640}{{\yy+8}}{10}{완료됨}
 \IcChev{2841}{\yy}
}
\begin{scope}\clip (2560,3415) rectangle (2885,3576);
\fill[cardo] (2567,3421) rectangle (2879,3620);
\fill[white] (2580,3451) rectangle (2866,3620);
\IcTrophy{2593}{3448}
\TxL[tb,text=dark]{2610}{3448}{14.5}{최근 성취}
\fill[palei] (2600,3489) circle[radius=16.5];\IcMicro{2600}{3489}
\TxL[text=dark]{2627}{3483}{11.5}{생물학 과제 연속 완료}
\TxL[text=gry]{2627}{3497.5}{10.3}{5개 과제를 연속으로 완료했습니다}
\fill[paleg] (2600,3532) circle[radius=16.5];\IcFlask{2600}{3532}
\TxL[text=dark]{2627}{3525}{11.5}{화학 고득점 달성}
\TxL[text=gry]{2627}{3540}{10.3}{화학 과제에서 95점을 획득했습니다}
\fill[paleg] (2600,3575) circle[radius=16.5];\fill[grn!80!black] (2600,3583) circle[radius=8];
\TxL[text=dark]{2627}{3569}{11.5}{이번 주 목표 달성}
\end{scope}
\NavBar{2554}{2934}{3}
% ---------- connector labels
\node[lbln] (lsign) at (1279,1707) {\fontsize{21.5}{22}\selectfont\Sx SignIn as student};
\node[lbln] (lprof) at (1947,584) {\fontsize{21.5}{22}\selectfont\Sx See Profile};
\node[lbln] (lqd) at (1915,1428) {\fontsize{21.5}{22}\selectfont\Sx See Quiz\\\fontsize{21.5}{22}\selectfont\Sx Details};
\node[lbln] (ls1) at (2593,1649) {\fontsize{21.5}{22}\selectfont\Sx Start Quiz};
\node[tx,fill=pagebg,minimum width=189pt,minimum height=44pt,font=\lab] (lrec) at (3018,1628) {\fontsize{21.5}{22}\selectfont\Sx Start Recording};
\node[lbln] (lsd) at (1617,2022) {\fontsize{21.5}{22}\selectfont\Sx Scroll down};
\node[lbln] (ls2) at (1876,2117) {\fontsize{21.5}{22}\selectfont\Sx Start Quiz};
\node[lbln] (lshow) at (1911,2798) {\fontsize{21.5}{22}\selectfont\Sx Show All};
\node[lbln] (lrep) at (1725,3072) {\fontsize{21.5}{22}\selectfont\Sx See Report};
\node[lbln] (lsc2) at (2458,3278) {\fontsize{21.5}{22}\selectfont\Sx Scroll\\\fontsize{21.5}{22}\selectfont\Sx down};
\node[lbln] (lmk) at (884,2428) {\fontsize{21.5}{22}\selectfont\Sx Make Account (SignUp)};
% ---------- dots
\node[dotn] (dlogin) at (911,1954) {};
\node[dotn] (dmake) at (884,2247) {};
\node[dotn] (dprof) at (1721,1145) {};
\node[dotn] (dcard) at (1759,1421) {};
\node[dotn] (dstart) at (2275,1686) {};
\node[dotn] (drec) at (2838,1679) {};
\node[dotn] (dquiz) at (1561,2324) {};
\node[dotn] (dall) at (1754,2440) {};
\node[dotn] (drep) at (1725,2869) {};
% ---------- coordinates
\coordinate (e0) at (617,1948);
\coordinate (c1) at (1151,1954);
\coordinate (c2) at (1151,1707);
\coordinate (e1) at (1447,1707);
\coordinate (e2) at (884,2564);
\coordinate (c3) at (1947,1145);
\coordinate (c4) at (1947,449);
\coordinate (e3) at (2128,449);
\coordinate (e4) at (2144,1421);
\coordinate (m5) at (2522,1642);
\coordinate (e5) at (2732,1686);
\coordinate (m6) at (2924,1642);
\coordinate (s6) at (3111,1650);
\coordinate (e6) at (3162,1680);
\coordinate (s7) at (1617,1868);
\coordinate (e7) at (1617,2121);
\coordinate (m8) at (1811,2134);
\coordinate (s8) at (1947,2097);
\coordinate (e8) at (2012,2090);
\coordinate (e9) at (2028,3084);
\coordinate (c10) at (1725,3215);
\coordinate (e10) at (2028,3215);
\coordinate (e11) at (2554,3278);
\coordinate (s11) at (2374,3278);
% ---------- connectors
\draw[arr] (pot.east |- e0) -- (e0);
\draw[conn] (dlogin.center) -- (c1) -- (c2) -- (lsign);
\draw[arr] (lsign) -- (e1);
\draw[conn] (dmake.center) -- (lmk);
\draw[arr] (lmk) -- (e2);
\draw[conn] (dprof.center) -- (c3) -- (lprof);
\draw[arr] (lprof) -- (c4) -- (e3);
\draw[conn] (dcard.center) -- (lqd.west |- dcard.center);
\draw[arr] (lqd.east |- dcard.center) -- (e4);
\draw[conn] (dstart.center) .. controls (2340,1652) and (2440,1642) .. (m5);
\draw[arr] (ls1.east) .. controls (2690,1655) and (2720,1670) .. (e5);
\draw[conn] (drec.center) .. controls (2860,1655) and (2900,1645) .. (m6);
\draw[arr] (s6) .. controls (3130,1655) and (3155,1665) .. (e6);
\draw[conn] (s7) -- (lsd);
\draw[arr] (lsd) -- (e7);
\draw[conn] (dquiz.center) .. controls (1640,2262) and (1720,2165) .. (m8);
\draw[arr] (s8) .. controls (1970,2097) and (1990,2092) .. (e8);
\draw[conn] (dall.center) .. controls (1830,2450) and (1890,2600) .. (lshow.north);
\draw[arr] (lshow.south) .. controls (1915,2950) and (1960,3050) .. (e9);
\draw[conn] (drep.center) -- (lrep);
\draw[arr] (lrep) -- (c10) -- (e10);
\draw[conn] (s11) -- (lsc2.west |- e11);
\draw[arr] (lsc2.east |- e11) -- (e11);
\end{tikzpicture}
\end{document}
